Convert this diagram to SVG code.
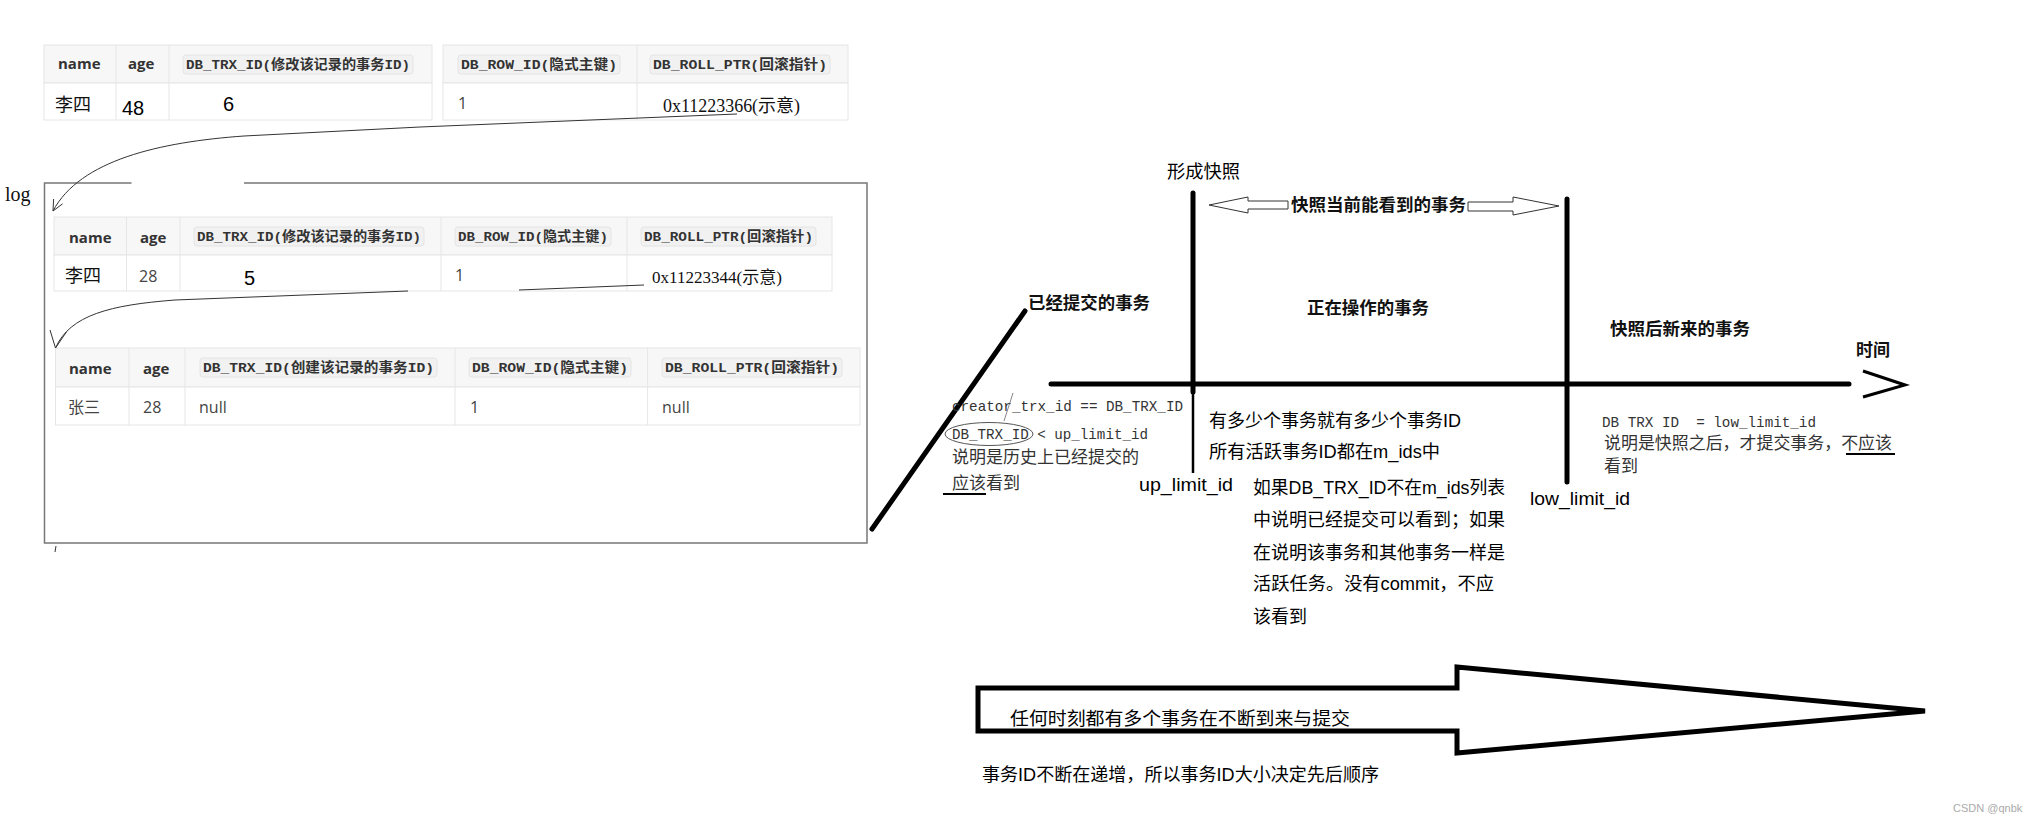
<svg xmlns="http://www.w3.org/2000/svg" width="2024" height="823" viewBox="0 0 2024 823">
<style>
.hbg{fill:#f7f7f7;stroke:#e6e6e6;stroke-width:1}
.rbg{fill:#fff;stroke:#e6e6e6;stroke-width:1}
.gl{stroke:#e6e6e6;stroke-width:1;fill:none}
.cb{fill:#f1f1f1;stroke:#e4e4e4;stroke-width:1}
.hd{font-family:"Open Sans","Noto Sans CJK SC",sans-serif;font-weight:bold;font-size:15px;fill:#333}
.code{font-family:"Liberation Mono","Noto Sans CJK SC",monospace;font-weight:bold;font-size:13.5px;fill:#333}
.cell{font-family:"Open Sans","Noto Sans CJK SC",sans-serif;font-size:16px;fill:#444}
.ser{font-family:"Liberation Serif","Noto Sans CJK SC",serif;fill:#111}
.big{font-family:"Liberation Sans","Noto Sans CJK SC",sans-serif;font-size:20px;fill:#000}
.note{font-family:"Liberation Sans","Noto Sans CJK SC",sans-serif;font-size:18px;fill:#000}
.bt{font-family:"Liberation Serif","Noto Sans CJK SC",serif;font-weight:bold;font-size:17px;fill:#111}
.mono{font-family:"Liberation Mono","Noto Sans CJK SC",monospace;font-size:15px;fill:#333}
.gn{font-family:"Liberation Serif","Noto Sans CJK SC",serif;font-size:17px;fill:#333}
.thin{fill:none;stroke:#333;stroke-width:1}
.thick{fill:none;stroke:#000;stroke-width:5;stroke-linecap:round}
.hollow{fill:#fff;stroke:#333;stroke-width:1}
</style>

<!-- Table 1: current record -->
<g id="table-current">
  <rect class="hbg" x="44" y="45" width="388" height="38"/>
  <rect class="rbg" x="44" y="83" width="388" height="37"/>
  <rect class="hbg" x="443" y="45" width="405" height="38"/>
  <rect class="rbg" x="443" y="83" width="405" height="37"/>
  <path class="gl" d="M116,45V120M169,45V120M637,45V120"/>
  <text class="hd" x="58" y="69">name</text>
  <text class="hd" x="128" y="69">age</text>
  <rect class="cb" x="183" y="55" width="230" height="19" rx="3"/>
  <text class="code" x="186" y="69" textLength="224" lengthAdjust="spacingAndGlyphs">DB_TRX_ID(修改该记录的事务ID)</text>
  <rect class="cb" x="458" y="55" width="162" height="19" rx="3"/>
  <text class="code" x="461" y="69" textLength="156" lengthAdjust="spacingAndGlyphs">DB_ROW_ID(隐式主键)</text>
  <rect class="cb" x="650" y="55" width="180" height="19" rx="3"/>
  <text class="code" x="653" y="69" textLength="174" lengthAdjust="spacingAndGlyphs">DB_ROLL_PTR(回滚指针)</text>
  <text class="ser" x="55" y="111" font-size="18">李四</text>
  <text class="big" x="122" y="115">48</text>
  <text class="big" x="223" y="111">6</text>
  <text class="cell" x="458" y="109" fill="#555">1</text>
  <text class="ser" x="663" y="112" font-size="18" textLength="137" lengthAdjust="spacingAndGlyphs">0x11223366(示意)</text>
</g>

<!-- log box -->
<g id="log">
  <text class="ser" x="5" y="201" font-size="20">log</text>
  <path d="M131.5,183H44.5V543H867V183H244" fill="none" stroke="#777" stroke-width="1.5"/>
</g>

<!-- Table 2: undo log record 1 -->
<g id="table-log1">
  <rect class="hbg" x="54" y="217" width="778" height="38"/>
  <rect class="rbg" x="54" y="255" width="778" height="36"/>
  <path class="gl" d="M126.5,217V291M180,217V291M441,217V291M627,217V291"/>
  <text class="hd" x="69" y="243">name</text>
  <text class="hd" x="140" y="243">age</text>
  <rect class="cb" x="194" y="227" width="230" height="19" rx="3"/>
  <text class="code" x="197" y="241" textLength="224" lengthAdjust="spacingAndGlyphs">DB_TRX_ID(修改该记录的事务ID)</text>
  <rect class="cb" x="455" y="227" width="156" height="19" rx="3"/>
  <text class="code" x="458" y="241" textLength="150" lengthAdjust="spacingAndGlyphs">DB_ROW_ID(隐式主键)</text>
  <rect class="cb" x="641" y="227" width="175" height="19" rx="3"/>
  <text class="code" x="644" y="241" textLength="169" lengthAdjust="spacingAndGlyphs">DB_ROLL_PTR(回滚指针)</text>
  <text class="ser" x="65" y="282" font-size="18" fill="#333">李四</text>
  <text class="cell" x="139" y="282">28</text>
  <text class="big" x="244" y="285" font-size="22">5</text>
  <text class="cell" x="455" y="281" fill="#555">1</text>
  <text class="ser" x="652" y="283" font-size="17" textLength="130" lengthAdjust="spacingAndGlyphs">0x11223344(示意)</text>
</g>

<!-- Table 3: undo log record 2 -->
<g id="table-log2">
  <rect class="hbg" x="55.5" y="348" width="804.5" height="39"/>
  <rect class="rbg" x="55.5" y="387" width="804.5" height="38"/>
  <path class="gl" d="M129,348V425M185,348V425M455,348V425M647.6,348V425"/>
  <text class="hd" x="69" y="374">name</text>
  <text class="hd" x="143" y="374">age</text>
  <rect class="cb" x="200" y="358" width="237" height="19" rx="3"/>
  <text class="code" x="203" y="372" textLength="231" lengthAdjust="spacingAndGlyphs">DB_TRX_ID(创建该记录的事务ID)</text>
  <rect class="cb" x="469" y="358" width="162" height="19" rx="3"/>
  <text class="code" x="472" y="372" textLength="156" lengthAdjust="spacingAndGlyphs">DB_ROW_ID(隐式主键)</text>
  <rect class="cb" x="662" y="358" width="180" height="19" rx="3"/>
  <text class="code" x="665" y="372" textLength="174" lengthAdjust="spacingAndGlyphs">DB_ROLL_PTR(回滚指针)</text>
  <text class="cell" x="68" y="413" fill="#333">张三</text>
  <text class="cell" x="143" y="413">28</text>
  <text class="cell" x="199" y="413">null</text>
  <text class="cell" x="470" y="413">1</text>
  <text class="cell" x="662" y="413">null</text>
</g>

<!-- connectors -->
<g id="connectors">
  <path class="thin" d="M737,114L420,127L244,136C160,142 80,160 53,211"/>
  <path class="thin" d="M62.6,203.8L53,211L53.6,199"/>
  <path class="thin" d="M644,285L519,290M408,291L175,300C110,305 70,315 55.5,348"/>
  <path class="thin" d="M50,330L55.5,348L66.6,331.7"/>
  <path d="M56,546L55,552" stroke="#333" stroke-width="1" fill="none"/>
  <path class="thick" d="M872,529L1025,311"/>
  <path class="thick" d="M1051,384H1849" stroke-linecap="butt"/>
  <path d="M1863,371L1905,385L1863,397" fill="none" stroke="#000" stroke-width="3"/>
  <path class="thick" d="M1193,193V392" stroke-linecap="butt"/>
  <path d="M1193,392V473" stroke="#000" stroke-width="2.5" fill="none"/>
  <path class="thick" d="M1567,199V482" stroke-linecap="butt"/>
  <polygon class="hollow" points="1209,205 1248,197 1248,201 1288,201 1288,209 1248,209 1248,213"/>
  <polygon class="hollow" points="1468,202 1513,202 1513,197 1559,206 1513,215 1513,211 1468,211"/>
  <polygon points="978,688 1457,688 1457,667 1925,711 1457,753 1457,731 978,731" fill="#fff" stroke="#000" stroke-width="5" stroke-linejoin="miter"/>
</g>

<!-- labels -->
<g id="timeline-labels">
  <text x="1167" y="178" font-family="Liberation Sans, Noto Sans CJK SC, sans-serif" font-size="18" fill="#000" textLength="73" lengthAdjust="spacingAndGlyphs">形成快照</text>
  <text class="bt" x="1291" y="211" textLength="175" lengthAdjust="spacingAndGlyphs">快照当前能看到的事务</text>
  <text class="bt" x="1028" y="309" textLength="122" lengthAdjust="spacingAndGlyphs">已经提交的事务</text>
  <text class="bt" x="1307" y="314" textLength="122" lengthAdjust="spacingAndGlyphs">正在操作的事务</text>
  <text class="bt" x="1610" y="335" textLength="140" lengthAdjust="spacingAndGlyphs">快照后新来的事务</text>
  <text class="bt" x="1856" y="356" textLength="34" lengthAdjust="spacingAndGlyphs">时间</text>
</g>

<g id="note-committed">
  <text class="mono" x="952" y="411" textLength="231" lengthAdjust="spacingAndGlyphs">creator_trx_id == DB_TRX_ID</text>
  <text class="mono" x="952" y="439" textLength="196" lengthAdjust="spacingAndGlyphs">DB_TRX_ID &lt; up_limit_id</text>
  <ellipse cx="989" cy="434" rx="44" ry="11.5" fill="none" stroke="#555" stroke-width="1"/>
  <path d="M1013,393L1004,421" stroke="#666" stroke-width="0.8" fill="none"/>
  <text class="gn" x="952" y="463" textLength="187" lengthAdjust="spacingAndGlyphs">说明是历史上已经提交的</text>
  <text class="gn" x="952" y="489" textLength="68" lengthAdjust="spacingAndGlyphs">应该看到</text>
  <path d="M943,494H986" stroke="#000" stroke-width="2"/>
</g>

<g id="note-active">
  <text class="note" x="1209" y="427" textLength="252" lengthAdjust="spacingAndGlyphs">有多少个事务就有多少个事务ID</text>
  <text class="note" x="1209" y="458" textLength="231" lengthAdjust="spacingAndGlyphs">所有活跃事务ID都在m_ids中</text>
  <text class="note" x="1139" y="491" font-size="19" textLength="94" lengthAdjust="spacingAndGlyphs">up_limit_id</text>
  <text class="note" x="1253" y="494" textLength="252" lengthAdjust="spacingAndGlyphs">如果DB_TRX_ID不在m_ids列表</text>
  <text class="note" x="1253" y="526" textLength="252" lengthAdjust="spacingAndGlyphs">中说明已经提交可以看到；如果</text>
  <text class="note" x="1253" y="559" textLength="252" lengthAdjust="spacingAndGlyphs">在说明该事务和其他事务一样是</text>
  <text class="note" x="1253" y="590" textLength="241" lengthAdjust="spacingAndGlyphs">活跃任务。没有commit，不应</text>
  <text class="note" x="1253" y="623" textLength="54" lengthAdjust="spacingAndGlyphs">该看到</text>
  <text class="note" x="1530" y="505" font-size="19" textLength="100" lengthAdjust="spacingAndGlyphs">low_limit_id</text>
</g>

<g id="note-future">
  <text class="mono" x="1602" y="427" xml:space="preserve" textLength="214" lengthAdjust="spacingAndGlyphs">DB TRX ID  = low_limit_id</text>
  <text class="gn" x="1604" y="449" textLength="288" lengthAdjust="spacingAndGlyphs">说明是快照之后，才提交事务，不应该</text>
  <path d="M1846,454H1895" stroke="#000" stroke-width="2"/>
  <text class="gn" x="1604" y="472" textLength="34" lengthAdjust="spacingAndGlyphs">看到</text>
</g>

<g id="big-arrow-labels">
  <text class="note" x="1010" y="725" textLength="340" lengthAdjust="spacingAndGlyphs">任何时刻都有多个事务在不断到来与提交</text>
  <text class="note" x="982" y="781" textLength="397" lengthAdjust="spacingAndGlyphs">事务ID不断在递增，所以事务ID大小决定先后顺序</text>
  <text x="1953" y="812" font-family="Liberation Sans, Noto Sans CJK SC, sans-serif" font-size="11" fill="#aaa">CSDN @qnbk</text>
</g>
</svg>
